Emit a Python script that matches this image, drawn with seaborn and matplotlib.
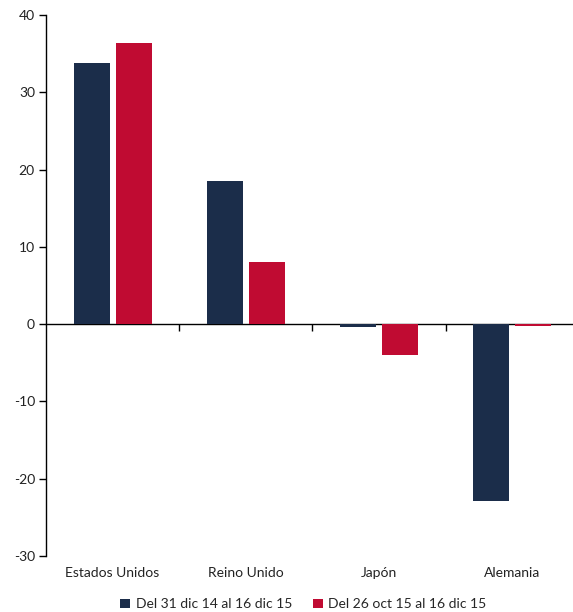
import pandas as pd
import matplotlib
matplotlib.use("Agg")
import matplotlib.pyplot as plt
import seaborn as sns

# Data
countries = ["Estados Unidos", "Reino Unido", "Japón", "Alemania"]
serie_1 = [33.8, 18.5, -0.4, -22.9]   # Del 31 dic 14 al 16 dic 15
serie_2 = [36.4, 8.0, -4.0, -0.2]     # Del 26 oct 15 al 16 dic 15
series_names = ["Del 31 dic 14 al 16 dic 15", "Del 26 oct 15 al 16 dic 15"]
y_ticks = [-30, -20, -10, 0, 10, 20, 30, 40]

sns.set_style("white")
plt.rcParams["font.family"] = ["Lato", "DejaVu Sans"]
plt.rcParams["axes.unicode_minus"] = False

df = pd.DataFrame({
    "pais": countries * 2,
    "valor": serie_1 + serie_2,
    "periodo": [series_names[0]] * 4 + [series_names[1]] * 4,
})

palette = {series_names[0]: "#1b2d4a", series_names[1]: "#c00b32"}

fig = plt.figure(figsize=(5.73, 6.12), dpi=100)
ax = fig.add_axes([46 / 573, 56 / 612, 533 / 573, 541 / 612])

sns.barplot(data=df, x="pais", y="valor", hue="periodo", palette=palette,
            width=0.63, gap=0.14, ax=ax, edgecolor="none", saturation=1)

ax.set_ylim(-30, 40)
ax.set_xlim(-0.5, 3.5)
ax.set_yticks(y_ticks)
ax.set_xlabel("")
ax.set_ylabel("")

for s in ["top", "right", "bottom"]:
    ax.spines[s].set_visible(False)
ax.spines["left"].set_color("black")
ax.spines["left"].set_linewidth(1)

ax.tick_params(axis="y", direction="out", length=5, width=1, color="black",
               labelsize=10, labelcolor="#222222", pad=3, left=True)
ax.tick_params(axis="x", length=0, labelsize=10, labelcolor="#222222", pad=8)

# zero line with category separator ticks
zero_ax = ax.secondary_xaxis(30 / 70)
zero_ax.set_xticks([0.5, 1.5, 2.5])
zero_ax.set_xticklabels([])
zero_ax.tick_params(direction="out", length=5, width=1, color="black")
zero_ax.spines["bottom"].set_color("black")
zero_ax.spines["bottom"].set_linewidth(1)

leg = ax.legend(loc="upper center", bbox_to_anchor=(0.483, -0.055), ncol=2,
                frameon=False, fontsize=10, handlelength=0.7, handleheight=0.7,
                handletextpad=0.4, columnspacing=1.5)

fig.savefig("out.png", dpi=100)
